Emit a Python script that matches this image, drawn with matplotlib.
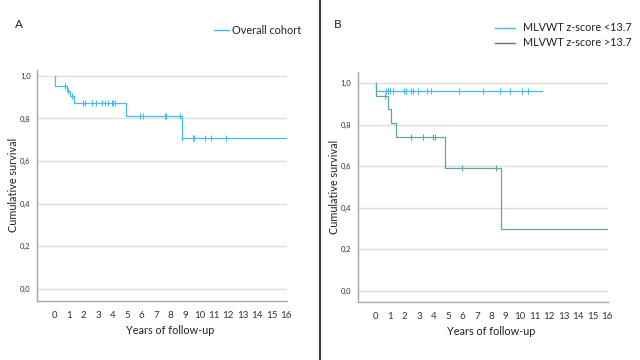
import numpy as np
import matplotlib
matplotlib.use('Agg')
import matplotlib.pyplot as plt
from matplotlib.lines import Line2D

plt.rcParams['font.family'] = ['Lato', 'DejaVu Sans']

# panel A: overall cohort (event times, survival after each event, censored times)
a_events = [0.0, 0.02, 0.81, 1.06, 1.31, 4.91, 8.81, 16.0]
a_surv = [1.0, 0.953, 0.931, 0.904, 0.872, 0.810, 0.710, 0.710]
a_cens = [0.69, 0.90, 1.17, 1.96, 2.07, 2.54, 2.88, 3.23, 3.46, 3.68, 3.92, 4.03, 4.15,
          5.87, 6.10, 7.62, 7.70, 8.64, 8.83, 9.56, 9.62, 10.40, 10.83, 11.82]

# panel B: MLVWT z-score groups
b1_events = [0.0, 0.05, 11.52]
b1_surv = [1.0, 0.963, 0.963]
b1_cens = [0.73, 0.86, 0.99, 1.17, 1.96, 2.07, 2.42, 2.59, 2.90, 3.57, 3.80, 5.74,
           7.44, 8.60, 9.30, 10.14, 10.54]

b2_events = [0.0, 0.02, 0.88, 1.08, 1.38, 4.77, 8.64, 16.06]
b2_surv = [1.0, 0.9375, 0.875, 0.806, 0.739, 0.590, 0.297, 0.297]
b2_cens = [0.62, 2.47, 3.27, 3.99, 4.12, 5.97, 8.34]

x_ticks = list(range(0, 17))
y_ticks = [0.0, 0.2, 0.4, 0.6, 0.8, 1.0]
y_labels = ['0,0', '0,2', '0,4', '0,6', '0,8', '1,0']

blue = '#45bbf0'
teal = '#5aa8a4'
legend_green = '#5c8060'
W, H = 640, 360
XMIN, XMAX = -1.24, 16.07


def km(ax, times, surv, cens, color):
    ax.plot(times, surv, drawstyle='steps-post', color=color, lw=0.9)
    idx = np.searchsorted(times, cens, side='right') - 1
    ax.plot(cens, np.array(surv)[idx], ls='none', marker='|', ms=4, mew=0.8, color=color)


def style(ax, ylim):
    ax.set_xlim(XMIN, XMAX)
    ax.set_ylim(*ylim)
    ax.set_xticks(x_ticks)
    ax.set_yticks(y_ticks)
    ax.set_yticklabels(y_labels)
    ax.grid(axis='y', color='#dedede', lw=1.0)
    ax.set_axisbelow(True)
    for s in ['top', 'right']:
        ax.spines[s].set_visible(False)
    for s in ['left', 'bottom']:
        ax.spines[s].set_color('#a8a8a8')
        ax.spines[s].set_linewidth(1.0)
    ax.tick_params(axis='both', length=0, colors='#333333')
    ax.tick_params(axis='x', labelsize=7, pad=7)
    ax.tick_params(axis='y', labelsize=5.5, pad=4.5)
    ax.set_xlabel('Years of follow-up', fontsize=7.8, color='#222222')
    ax.xaxis.set_label_coords((8 - XMIN) / (XMAX - XMIN), -0.105)
    ax.set_ylabel('Cumulative survival', fontsize=7.8, color='#222222', labelpad=0.5)


def legend_entry(x0, x1, y, gap, color, label):
    fig.add_artist(Line2D([x0 / W, x1 / W], [1 - y / H, 1 - y / H], color=color, lw=1.0))
    fig.text((x1 + gap) / W, 1 - y / H, label, fontsize=7.8, color='#222222', va='center')


fig = plt.figure(figsize=(6.4, 3.6), dpi=100)
ax1 = fig.add_axes([0.0578, 0.164, 0.3906, 0.642])
ax2 = fig.add_axes([0.5589, 0.161, 0.3911, 0.639])

km(ax1, a_events, a_surv, a_cens, blue)
style(ax1, (-0.056, 1.028))

km(ax2, b1_events, b1_surv, b1_cens, blue)
km(ax2, b2_events, b2_surv, b2_cens, teal)
style(ax2, (-0.053, 1.053))

legend_entry(214, 229, 30, 3, blue, 'Overall cohort')
legend_entry(495, 515, 27.5, 8, blue, 'MLVWT z-score <13.7')
legend_entry(495, 515, 43, 8, legend_green, 'MLVWT z-score >13.7')

fig.text(15 / W, 1 - 24 / H, 'A', fontsize=8.5, color='#222222', va='center')
fig.text(334 / W, 1 - 24 / H, 'B', fontsize=8.5, color='#222222', va='center')
fig.add_artist(Line2D([319.5 / W, 319.5 / W], [0, 1], color='#3a3a3a', lw=1.5))

fig.savefig('out.png', dpi=100)
